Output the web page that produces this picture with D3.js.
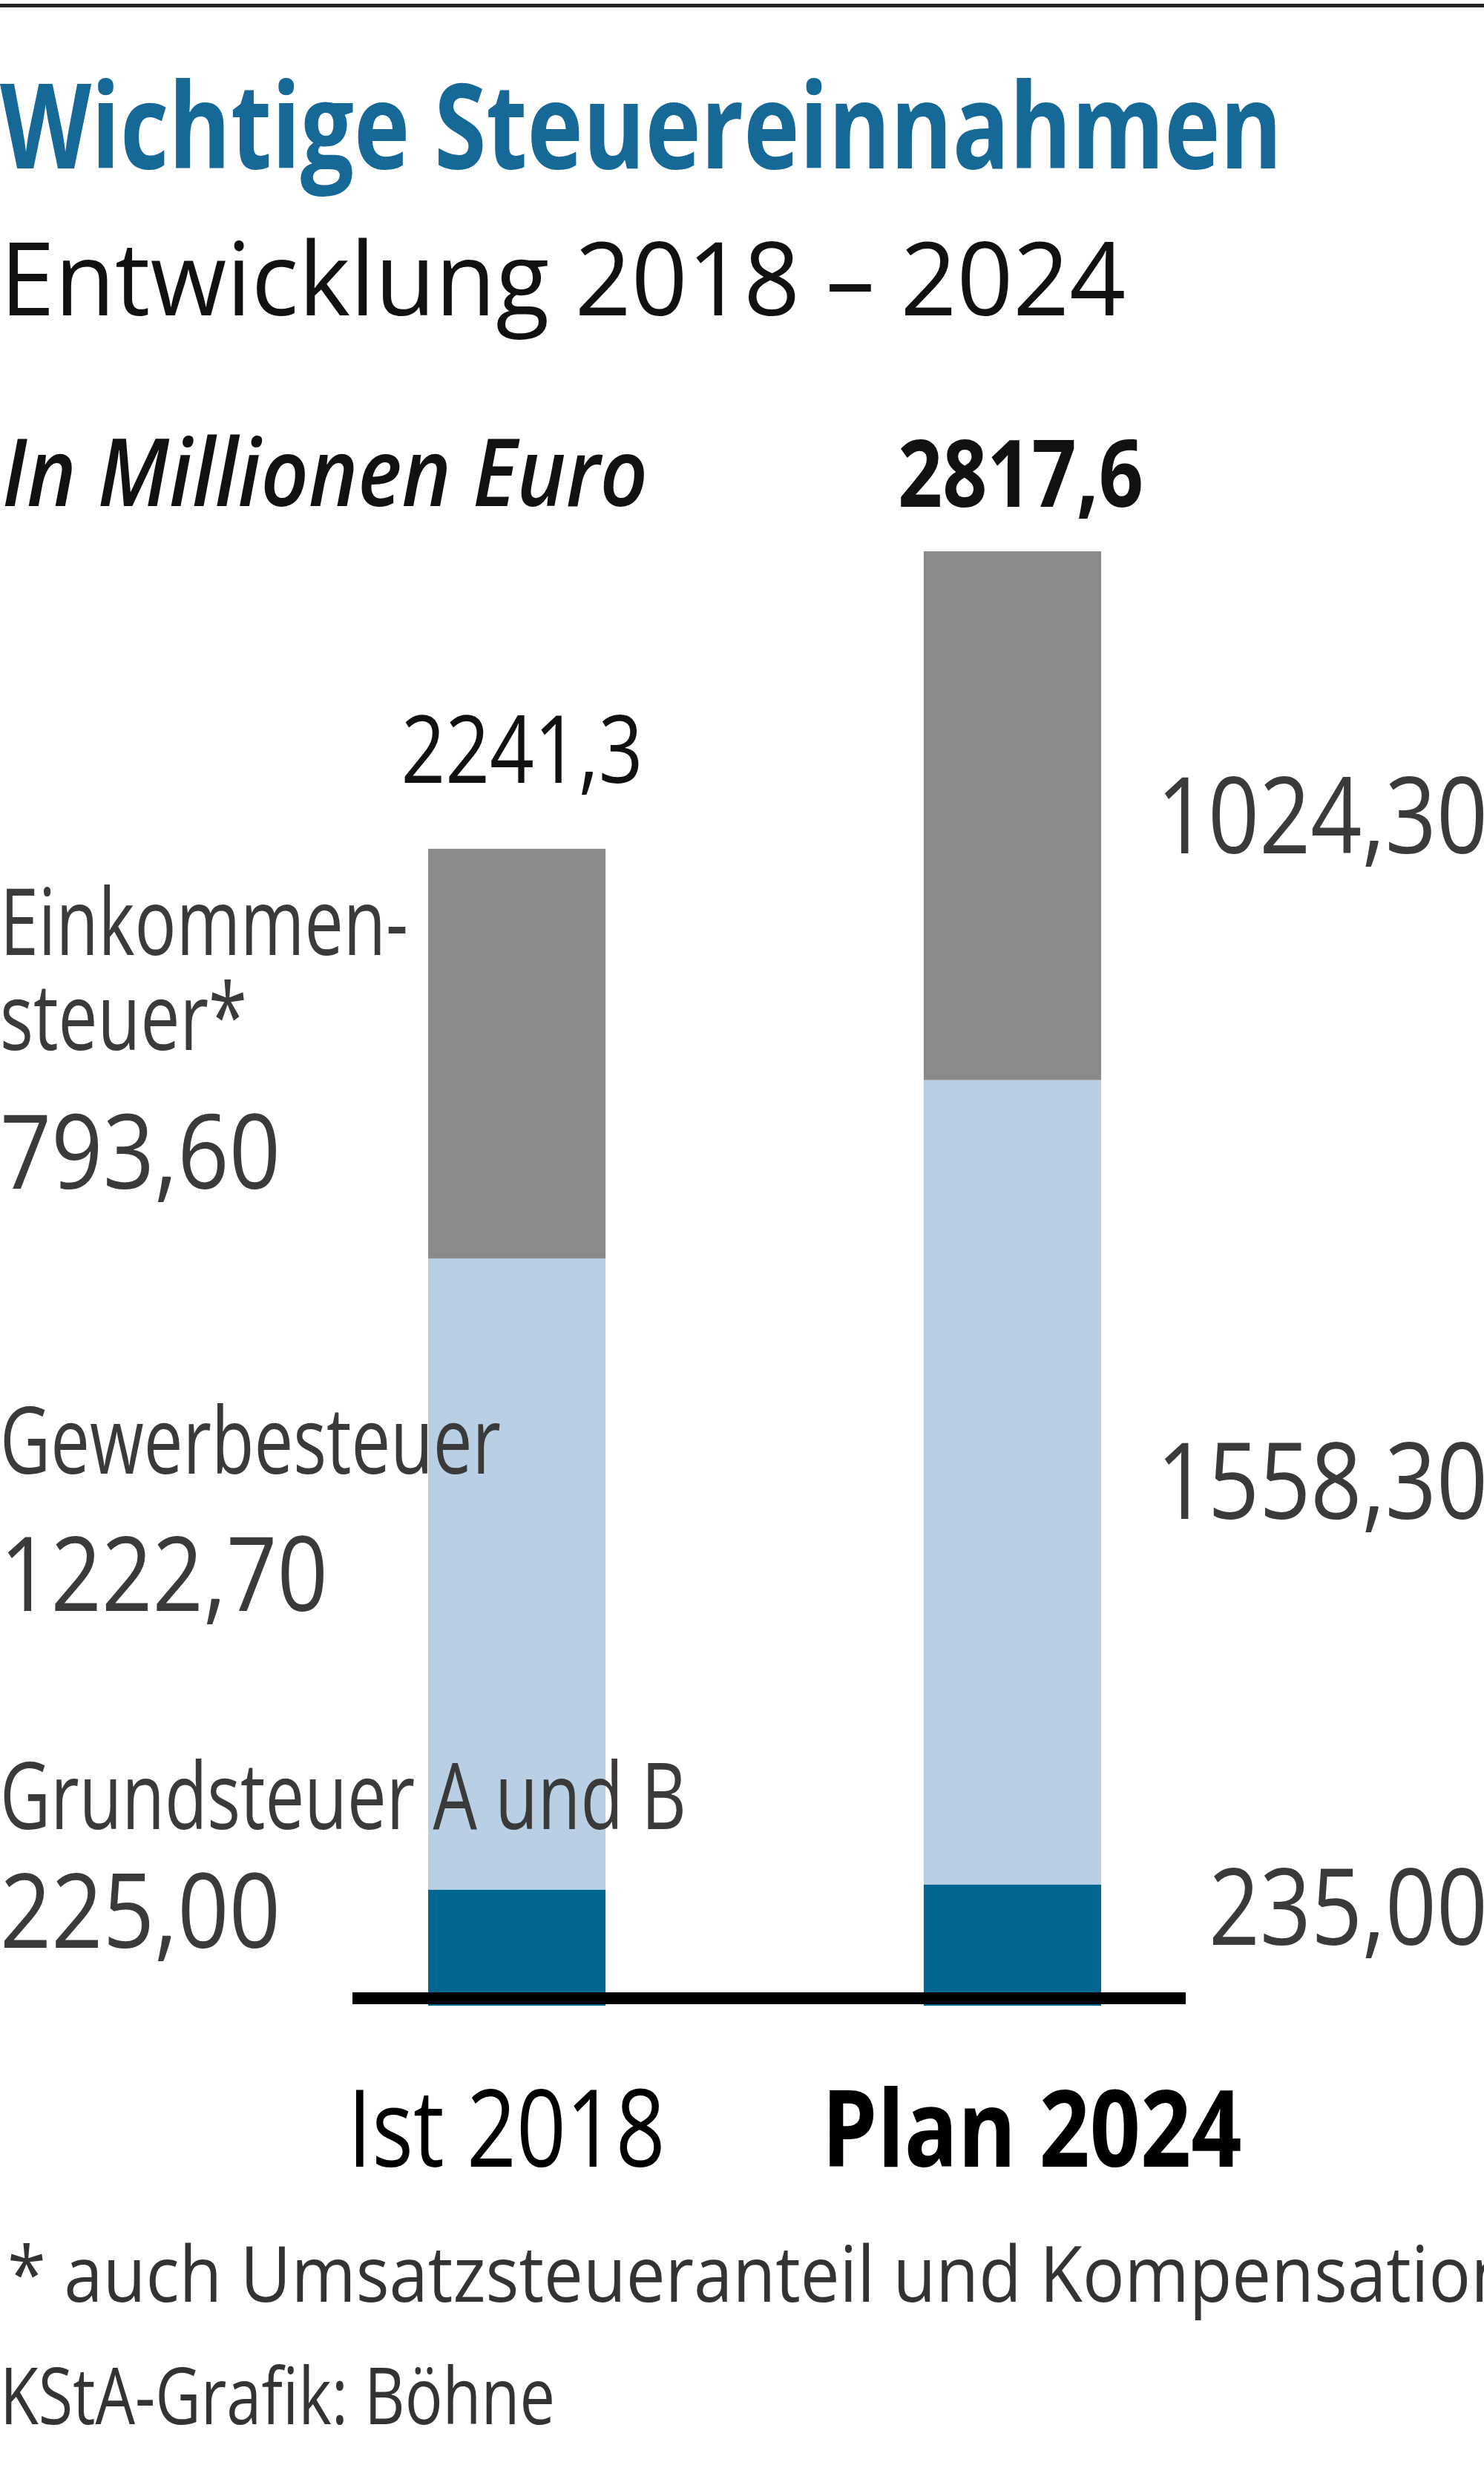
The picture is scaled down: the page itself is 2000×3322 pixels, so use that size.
<!DOCTYPE html>
<html lang="de">
<head>
    <meta charset="UTF-8">
    <title>Wichtige Steuereinnahmen</title>
    <script src="https://d3js.org/d3.v7.min.js"></script>
    <style>
        body {
            margin: 0;
            background-color: white;
            font-family: "Open Sans", "Noto Sans", sans-serif;
        }
        svg text {
            font-family: "Open Sans", "Noto Sans", sans-serif;
        }
    </style>
</head>
<body>
    <div id="chart"></div>

    <script>
        // data
        const categories = ["Ist 2018", "Plan 2024"];
        const seriesKeys = ["grund", "gewerbe", "einkommen"];
        const seriesNames = [["Grundsteuer A und B"], ["Gewerbesteuer"], ["Einkommen-", "steuer*"]];
        const grundsteuer = [225.0, 235.0];
        const gewerbesteuer = [1222.7, 1558.3];
        const einkommensteuer = [793.6, 1024.3];
        const totals = [2241.3, 2817.6];
        const colors = ["#006690", "#b9d0e4", "#8b8a8b"];

        const width = 2000, height = 3322;

        const de = d3.formatLocale({decimal: ",", thousands: "", grouping: [3], currency: ["", " €"]});
        const fmt1 = de.format(".1f");
        const fmt2 = de.format(".2f");

        const svg = d3.select("#chart")
            .append("svg")
            .attr("width", width)
            .attr("height", height)
            .attr("viewBox", [0, 0, width, height]);

        // squeeze text into the width measured on the original (condensed face)
        function fit(sel, w) {
            sel.attr("textLength", w).attr("lengthAdjust", "spacingAndGlyphs");
            return sel;
        }

        // top rule
        svg.append("rect")
            .attr("x", 0).attr("y", 5)
            .attr("width", width).attr("height", 5)
            .attr("fill", "#222");

        // header
        svg.append("text")
            .attr("x", 0).attr("y", 227)
            .attr("font-size", 160).attr("font-weight", 700)
            .attr("fill", "#166896")
            .text("Wichtige Steuereinnahmen")
            .call(fit, 1728);

        svg.append("text")
            .attr("x", 0).attr("y", 425)
            .attr("font-size", 138).attr("font-weight", 400)
            .attr("fill", "#111")
            .text("Entwicklung 2018 – 2024")
            .call(fit, 1517);

        svg.append("text")
            .attr("x", 3).attr("y", 682)
            .attr("font-size", 126).attr("font-weight", 600)
            .attr("font-style", "italic")
            .attr("fill", "#111")
            .text("In Millionen Euro")
            .call(fit, 870);

        // scales
        const x = d3.scaleBand()
            .domain(categories)
            .range([577, 1484])
            .paddingInner(0.642)
            .paddingOuter(0);

        const y = d3.scaleLinear()
            .domain([0, d3.max(totals)])
            .range([2703, 743]);

        const table = categories.map((c, i) => ({
            cat: c,
            grund: grundsteuer[i],
            gewerbe: gewerbesteuer[i],
            einkommen: einkommensteuer[i]
        }));

        const stacked = d3.stack().keys(seriesKeys)(table);

        // bars
        svg.append("g")
            .selectAll("g")
            .data(stacked)
            .join("g")
            .attr("fill", (d, i) => colors[i])
            .selectAll("rect")
            .data(d => d)
            .join("rect")
            .attr("x", d => x(d.data.cat))
            .attr("y", d => y(d[1]))
            .attr("width", x.bandwidth())
            .attr("height", d => y(d[0]) - y(d[1]));

        // baseline
        svg.append("line")
            .attr("x1", 475).attr("x2", 1598)
            .attr("y1", y(0) - 10).attr("y2", y(0) - 10)
            .attr("stroke", "#000")
            .attr("stroke-width", 16);

        // totals above bars
        const totalOffset = [89, 60];
        const totalShift = [7, 11];
        svg.append("g")
            .selectAll("text")
            .data(totals)
            .join("text")
            .attr("x", (d, i) => x(categories[i]) + x.bandwidth() / 2 + totalShift[i])
            .attr("y", (d, i) => y(d) - totalOffset[i])
            .attr("text-anchor", "middle")
            .attr("font-size", 126)
            .attr("font-weight", (d, i) => i ? 700 : 400)
            .attr("fill", "#111")
            .text(d => fmt1(d))
            .each(function(d, i) { d3.select(this).call(fit, i ? 331 : 326); });

        // segment labels: names and values for Ist 2018 on the left, values for Plan 2024 on the right
        const leftValOffset = [0, 50, 182];
        const leftNameGap = [160, 185, 187];
        const leftValWidth = [378, 442, 378];
        const leftNameWidth = [[925], [675], [550, 333]];
        const rightValOffset = [0, 49, 51];
        const rightValWidth = [376, 446, 446];

        const left = svg.append("g").attr("fill", "#3a3a3a");
        const right = svg.append("g").attr("fill", "#3a3a3a");

        stacked.forEach((s, k) => {
            const a = s[0];
            const mid = (y(a[0]) + y(a[1])) / 2;
            const vy = mid + leftValOffset[k];
            left.append("text")
                .attr("x", 0).attr("y", vy)
                .attr("font-size", 140)
                .text(fmt2(a[1] - a[0]))
                .call(fit, leftValWidth[k]);
            const lines = seriesNames[k];
            lines.forEach((ln, j) => {
                left.append("text")
                    .attr("x", 0)
                    .attr("y", vy - leftNameGap[k] - (lines.length - 1 - j) * 128)
                    .attr("font-size", 124)
                    .text(ln)
                    .call(fit, leftNameWidth[k][j]);
            });

            const b = s[1];
            const midB = (y(b[0]) + y(b[1])) / 2;
            right.append("text")
                .attr("x", 2005).attr("y", midB + rightValOffset[k])
                .attr("text-anchor", "end")
                .attr("font-size", 142)
                .text(fmt2(b[1] - b[0]))
                .call(fit, rightValWidth[k]);
        });

        // category labels
        const catShift = [-14, 26];
        const catWidth = [428, 566];
        svg.append("g")
            .selectAll("text")
            .data(categories)
            .join("text")
            .attr("x", (d, i) => x(d) + x.bandwidth() / 2 + catShift[i])
            .attr("y", 2920)
            .attr("text-anchor", "middle")
            .attr("font-size", 144)
            .attr("font-weight", (d, i) => i ? 700 : 400)
            .attr("fill", "#000")
            .text(d => d)
            .each(function(d, i) { d3.select(this).call(fit, catWidth[i]); });

        // footnote and credit
        svg.append("text")
            .attr("x", 10).attr("y", 3102)
            .attr("font-size", 104)
            .attr("fill", "#333")
            .text("* auch Umsatzsteueranteil und Kompensation")
            .call(fit, 2030);

        svg.append("text")
            .attr("x", 0).attr("y", 3267)
            .attr("font-size", 106)
            .attr("fill", "#333")
            .text("KStA-Grafik: Böhne")
            .call(fit, 748);
    </script>
</body>
</html>
